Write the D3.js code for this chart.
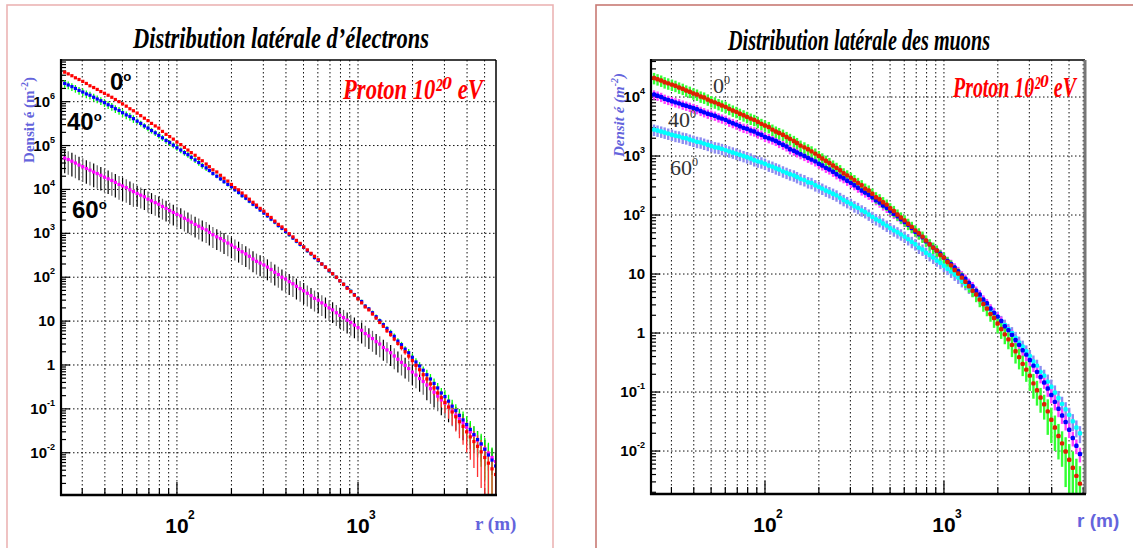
<!DOCTYPE html>
<html><head><meta charset="utf-8">
<script src="https://cdn.jsdelivr.net/npm/d3@7"></script>
<style>body{margin:0;background:#fff}svg{display:block}</style></head>
<body><svg id="c" width="1133" height="548"></svg>
<script>
// ---------- data ----------
// radial bins r (m)
const rBins = [24.0,25.1,26.3,27.5,28.8,30.2,31.6,33.1,34.7,36.3,38.0,39.8,41.7,43.7,45.7,47.9,50.1,52.5,55.0,57.5,
  60.3,63.1,66.1,69.2,72.4,75.9,79.4,83.2,87.1,91.2,95.5,100,105,110,115,120,126,132,138,145,
  151,158,166,174,182,191,200,209,219,229,240,251,263,275,288,302,316,331,347,363,
  380,398,417,437,457,479,501,525,550,575,603,631,661,692,724,759,794,832,871,912,
  955,1000,1047,1096,1148,1202,1259,1318,1380,1445,1514,1585,1660,1738,1820,1905,1995,2089,2188,2291,
  2399,2512,2630,2754,2884,3020,3162,3311,3467,3631,3802,3981,4169,4365,4571,4786,5012,5248,5495,5754];

// electrons, density (m^-2)
const elec0 = [4.7e6,4.3e6,3.9e6,3.5e6,3.2e6,2.9e6,2.6e6,2.3e6,2.1e6,1.9e6,1.7e6,1.55e6,1.4e6,1.26e6,1.12e6,1.0e6,8.9e5,7.9e5,6.9e5,6.2e5,
  5.5e5,4.8e5,4.2e5,3.7e5,3.2e5,2.8e5,2.5e5,2.1e5,1.8e5,1.6e5,1.4e5,1.2e5,1.05e5,9.1e4,7.9e4,6.9e4,6.0e4,5.1e4,4.5e4,3.8e4,
  3.3e4,2.8e4,2.5e4,2.1e4,1.8e4,1.55e4,1.3e4,1.1e4,9.8e3,8.3e3,7.1e3,6.0e3,5.1e3,4.4e3,3.7e3,3.2e3,2.7e3,2.3e3,1.9e3,1.6e3,
  1.4e3,1.2e3,980,830,690,590,490,420,350,300,250,200,170,145,120,100,83,69,56,47,
  39,32,26,21,18,14.5,11.7,9.3,7.6,6.0,4.9,3.9,3.1,2.5,2.0,1.6,1.26,0.98,0.78,0.60,
  0.48,0.37,0.30,0.23,0.18,0.14,0.11,0.085,0.066,0.051,0.040,0.030,0.023,0.018,0.014,0.0105,0.0078,0.0058,0.0043,0.0032];
const elec40 = [2.6e6,2.4e6,2.2e6,2.0e6,1.8e6,1.66e6,1.5e6,1.4e6,1.26e6,1.15e6,1.05e6,9.5e5,8.5e5,7.8e5,6.9e5,6.3e5,5.6e5,5.0e5,4.6e5,4.1e5,
  3.6e5,3.2e5,2.8e5,2.5e5,2.2e5,1.95e5,1.7e5,1.5e5,1.3e5,1.17e5,1.02e5,8.9e4,7.9e4,6.9e4,6.2e4,5.4e4,4.7e4,4.1e4,3.5e4,3.1e4,
  2.7e4,2.3e4,2.0e4,1.74e4,1.5e4,1.3e4,1.15e4,9.8e3,8.5e3,7.2e3,6.3e3,5.4e3,4.6e3,4.0e3,3.4e3,2.9e3,2.5e3,2.1e3,1.8e3,1.5e3,
  1.3e3,1.1e3,930,780,660,560,480,400,340,280,240,200,170,140,120,100,83,69,58,48,
  40,33,28,22,19,15.5,12.6,10.2,8.3,6.8,5.5,4.5,3.5,2.9,2.3,1.9,1.5,1.17,0.95,0.76,
  0.60,0.48,0.38,0.30,0.23,0.19,0.15,0.115,0.091,0.071,0.056,0.044,0.034,0.026,0.020,0.016,0.012,0.0089,0.0068,0.005];
const elec60 = [5.2e4,4.8e4,4.4e4,4.0e4,3.6e4,3.3e4,3.0e4,2.75e4,2.5e4,2.3e4,2.1e4,1.9e4,1.74e4,1.6e4,1.45e4,1.3e4,1.2e4,1.1e4,9.8e3,8.9e3,
  8.1e3,7.4e3,6.8e3,6.0e3,5.5e3,5.0e3,4.6e3,4.1e3,3.7e3,3.3e3,3.0e3,2.7e3,2.5e3,2.2e3,2.0e3,1.8e3,1.6e3,1.45e3,1.3e3,1.2e3,
  1.05e3,930,830,760,680,600,540,480,430,380,340,300,260,230,210,190,170,150,130,115,
  100,91,79,71,62,55,49,43,38,33,30,26,23,20,18,15.5,13.5,12,10.5,9.3,
  8.1,7.1,6.2,5.2,4.6,4.0,3.4,3.0,2.5,2.2,1.9,1.6,1.35,1.15,0.98,0.83,0.69,0.59,0.49,0.42,
  0.35,0.29,0.24,0.195,0.16,0.135,0.11,0.089,0.072,0.059,0.048,0.038,0.030,0.025,0.0195,0.0155,0.0123,0.0098,0.0078,0.0063];
// relative errors on electrons
const elec0Err = [.04,.04,.04,.04,.04,.04,.04,.04,.04,.04,.04,.04,.04,.04,.04,.04,.04,.04,.04,.04,
  .04,.04,.04,.04,.04,.04,.04,.04,.04,.04,.04,.04,.04,.04,.04,.04,.04,.04,.04,.04,
  .04,.04,.04,.04,.04,.04,.04,.04,.04,.04,.04,.04,.04,.04,.04,.04,.04,.04,.04,.04,
  .04,.04,.04,.04,.04,.04,.04,.04,.04,.04,.04,.04,.04,.04,.04,.04,.04,.04,.04,.04,
  .04,.04,.04,.04,.04,.06,.06,.07,.08,.09,.1,.11,.12,.14,.15,.17,.19,.21,.23,.25,
  .28,.3,.33,.36,.4,.43,.46,.5,.54,.58,.62,.66,.7,.75,.8,.85,.9,.93,.96,.98];
const elec40Err = [.2,.2,.2,.2,.2,.2,.2,.2,.2,.2,.2,.2,.2,.2,.2,.2,.2,.2,.2,.2,
  .15,.15,.15,.15,.15,.15,.15,.15,.15,.15,.15,.15,.15,.15,.15,.15,.15,.15,.15,.15,
  .1,.1,.1,.1,.1,.1,.1,.1,.1,.1,.1,.1,.1,.1,.1,.1,.1,.1,.1,.1,
  .1,.1,.1,.1,.1,.1,.1,.1,.1,.1,.1,.1,.1,.1,.1,.1,.1,.1,.1,.1,
  .1,.1,.1,.1,.1,.12,.12,.12,.12,.12,.16,.16,.16,.16,.16,.22,.22,.22,.22,.22,
  .3,.3,.3,.3,.3,.4,.4,.4,.4,.4,.55,.55,.55,.55,.55,.7,.8,.9,.95,.98];
const elec60Err = [.55,.55,.55,.55,.55,.55,.55,.55,.55,.55,.55,.55,.55,.55,.55,.55,.55,.55,.55,.55,
  .5,.5,.5,.5,.5,.5,.5,.5,.5,.5,.5,.5,.5,.5,.5,.5,.5,.5,.5,.5,
  .5,.5,.5,.5,.5,.5,.5,.5,.5,.5,.5,.5,.5,.5,.5,.5,.5,.5,.5,.5,
  .5,.5,.5,.5,.5,.5,.5,.5,.5,.5,.5,.5,.5,.5,.5,.5,.5,.5,.5,.5,
  .5,.5,.5,.5,.5,.5,.5,.5,.5,.5,.5,.5,.5,.5,.5,.5,.5,.5,.5,.5,
  .55,.55,.55,.55,.55,.55,.55,.55,.55,.55,.6,.6,.6,.6,.6,.6,.6,.6,.6,.6];

// muons, density (m^-2)
const muon0 = [2.1e4,2.0e4,1.9e4,1.78e4,1.7e4,1.62e4,1.55e4,1.45e4,1.38e4,1.29e4,1.23e4,1.15e4,1.1e4,1.02e4,9.8e3,9.1e3,8.5e3,8.1e3,7.6e3,7.2e3,
  6.8e3,6.3e3,5.9e3,5.6e3,5.2e3,4.9e3,4.6e3,4.3e3,4.1e3,3.8e3,3.5e3,3.3e3,3.1e3,2.8e3,2.6e3,2.45e3,2.3e3,2.1e3,1.95e3,1.8e3,
  1.66e3,1.5e3,1.4e3,1.3e3,1.2e3,1.1e3,1.0e3,910,830,760,690,630,575,510,470,430,390,350,320,280,
  260,230,200,185,165,150,130,117,102,91,81,71,63,55,49,43,37,32,28,25,
  21,19,16,14,11.7,10.2,8.7,7.4,6.2,5.2,4.5,3.7,3.1,2.6,2.1,1.8,1.45,1.17,0.95,0.78,
  0.63,0.49,0.39,0.30,0.24,0.19,0.14,0.107,0.081,0.062,0.047,0.034,0.025,0.018,0.0135,0.0098,0.0071,0.0052,0.0038,0.0028];
const muon40 = [1.1e4,1.05e4,1.0e4,9.3e3,8.9e3,8.5e3,8.1e3,7.8e3,7.4e3,7.1e3,6.8e3,6.5e3,6.2e3,5.8e3,5.5e3,5.2e3,5.0e3,4.8e3,4.5e3,4.3e3,
  4.1e3,3.8e3,3.6e3,3.4e3,3.2e3,3.0e3,2.9e3,2.7e3,2.6e3,2.4e3,2.3e3,2.1e3,2.0e3,1.9e3,1.8e3,1.66e3,1.55e3,1.45e3,1.3e3,1.23e3,
  1.15e3,1.07e3,1.0e3,930,870,810,740,690,630,590,540,490,450,420,380,350,320,290,260,240,
  220,200,178,162,145,132,117,105,95,85,76,68,60,52,47,42,36,32,28,25,
  22,19,16.6,14.8,12.9,11.2,9.5,8.3,7.1,6.2,5.2,4.5,3.7,3.2,2.6,2.2,1.9,1.6,1.3,1.12,
  0.93,0.76,0.63,0.51,0.43,0.35,0.28,0.22,0.18,0.145,0.115,0.089,0.068,0.052,0.040,0.031,0.023,0.0166,0.0123,0.0089];
const muon60 = [2.8e3,2.7e3,2.6e3,2.5e3,2.4e3,2.3e3,2.2e3,2.15e3,2.05e3,2.0e3,1.9e3,1.82e3,1.74e3,1.7e3,1.62e3,1.55e3,1.48e3,1.41e3,1.38e3,1.32e3,
  1.26e3,1.2e3,1.15e3,1.1e3,1.05e3,1.0e3,955,910,850,810,780,740,690,660,620,590,550,520,490,470,
  440,410,390,360,350,320,300,280,260,245,230,215,195,180,166,155,141,132,120,112,
  102,93,85,79,72,66,60,55,51,47,43,39,35,32,28,26,23,21,19,17,
  15.5,13.8,12.3,11,9.8,8.7,7.6,6.8,5.9,5.2,4.6,4.0,3.4,3.0,2.5,2.2,1.9,1.6,1.38,1.17,
  1.0,0.83,0.69,0.59,0.49,0.41,0.33,0.28,0.22,0.19,0.15,0.123,0.098,0.079,0.063,0.051,0.041,0.032,0.025,0.020];
// relative errors on muons
const muon0Err = [.22,.22,.22,.22,.22,.22,.22,.22,.22,.22,.22,.22,.22,.22,.22,.22,.22,.22,.22,.22,
  .22,.22,.22,.22,.22,.22,.22,.22,.22,.22,.22,.22,.22,.22,.22,.22,.22,.22,.22,.22,
  .22,.22,.22,.22,.22,.22,.22,.22,.22,.22,.22,.22,.22,.22,.22,.22,.22,.22,.22,.22,
  .22,.22,.22,.22,.22,.22,.22,.22,.22,.22,.22,.22,.22,.22,.22,.22,.22,.22,.22,.22,
  .22,.22,.22,.22,.22,.22,.22,.22,.22,.22,.26,.26,.26,.26,.26,.32,.32,.32,.32,.32,
  .38,.38,.38,.38,.38,.45,.45,.45,.45,.45,.6,.6,.6,.6,.6,.75,.85,.9,.95,.98];
const muon40Err = [.18,.18,.18,.18,.18,.18,.18,.18,.18,.18,.18,.18,.18,.18,.18,.18,.18,.18,.18,.18,
  .18,.18,.18,.18,.18,.18,.18,.18,.18,.18,.18,.18,.18,.18,.18,.18,.18,.18,.18,.18,
  .18,.18,.18,.18,.18,.18,.18,.18,.18,.18,.18,.18,.18,.18,.18,.18,.18,.18,.18,.18,
  .18,.18,.18,.18,.18,.18,.18,.18,.18,.18,.18,.18,.18,.18,.18,.18,.18,.18,.18,.18,
  .18,.18,.18,.18,.18,.18,.18,.18,.18,.18,.18,.18,.18,.18,.18,.18,.18,.18,.18,.18,
  .22,.22,.22,.22,.22,.22,.22,.22,.22,.22,.28,.28,.28,.28,.28,.28,.28,.28,.28,.28];
const muon60Err = [.22,.22,.22,.22,.22,.22,.22,.22,.22,.22,.22,.22,.22,.22,.22,.22,.22,.22,.22,.22,
  .22,.22,.22,.22,.22,.22,.22,.22,.22,.22,.22,.22,.22,.22,.22,.22,.22,.22,.22,.22,
  .22,.22,.22,.22,.22,.22,.22,.22,.22,.22,.22,.22,.22,.22,.22,.22,.22,.22,.22,.22,
  .22,.22,.22,.22,.22,.22,.22,.22,.22,.22,.22,.22,.22,.22,.22,.22,.22,.22,.22,.22,
  .22,.22,.22,.22,.22,.22,.22,.22,.22,.22,.22,.22,.22,.22,.22,.22,.22,.22,.22,.22,
  .26,.26,.26,.26,.26,.26,.26,.26,.26,.26,.32,.32,.32,.32,.32,.32,.32,.32,.32,.32];

const angleLabels = ["0", "40", "60"];
const xLabelDecades = [100, 1000];
const titles = ["Distribution latérale d’électrons", "Distribution latérale des muons"];
const energyLabel = "Proton 10\u00B2\u2070 eV";
const yTitleText = ["Densit é (m", "-2", ")"];
const xTitleText = "r (m)";

// ---------- drawing ----------
const svg = d3.select("#c");
const NARROW = "'Liberation Sans Narrow','Liberation Sans',Arial,sans-serif";
const SERIF = "'Liberation Serif','Times New Roman','DejaVu Serif',serif";
const BLUE_T = "#6464dc";

function panel(cfg) {
  const g = svg.append("g");
  g.append("rect").attr("x", cfg.frame[0]).attr("y", cfg.frame[1])
    .attr("width", cfg.frame[2]).attr("height", cfg.frame[3])
    .attr("fill", "none").attr("stroke", cfg.frameColor).attr("stroke-width", 1.6);

  const x = d3.scaleLog().domain(cfg.xDom).range([cfg.px0, cfg.px1]);
  const y = d3.scaleLog().domain(cfg.yDom).range([cfg.py1, cfg.py0]);
  const xt = x.ticks().filter(v => v > cfg.xDom[0] && v < cfg.xDom[1]);
  const yt = y.ticks().filter(v => v > cfg.yDom[0] && v < cfg.yDom[1]);
  const isDec = v => Math.abs(Math.log10(v) - Math.round(Math.log10(v))) < 1e-6;

  // grid
  const grid = g.append("g").attr("stroke", "#111").attr("stroke-width", 1)
    .attr("stroke-dasharray", "1.5,2.5");
  xt.forEach(v => grid.append("line").attr("x1", x(v)).attr("x2", x(v))
    .attr("y1", cfg.py0).attr("y2", cfg.py1));
  yt.filter(isDec).forEach(v => grid.append("line").attr("y1", y(v)).attr("y2", y(v))
    .attr("x1", cfg.px0).attr("x2", cfg.px1));

  // ticks (inward)
  const tk = g.append("g").attr("stroke", "#000").attr("stroke-width", 1.2);
  yt.forEach(v => tk.append("line").attr("x1", cfg.px0).attr("x2", cfg.px0 + (isDec(v) ? 9 : 5))
    .attr("y1", y(v)).attr("y2", y(v)));
  xt.forEach(v => tk.append("line").attr("x1", x(v)).attr("x2", x(v))
    .attr("y1", cfg.py1).attr("y2", cfg.py1 - (isDec(v) ? 13 : 7)));

  // data
  const clipId = "clip" + cfg.id;
  g.append("clipPath").attr("id", clipId).append("rect")
    .attr("x", cfg.px0).attr("y", cfg.py0).attr("width", cfg.px1 - cfg.px0).attr("height", cfg.py1 - cfg.py0);
  const dg = g.append("g").attr("clip-path", `url(#${clipId})`);
  const lo = cfg.yDom[0] * 0.5;
  cfg.series.forEach(s => {
    const pts = rBins.map((r, i) => ({ r, v: s.vals[i], e: s.errs[i] }));
    dg.append("g").selectAll("line").data(pts).join("line")
      .attr("x1", d => x(d.r)).attr("x2", d => x(d.r))
      .attr("y1", d => y(d.v * (1 + d.e)))
      .attr("y2", d => y(Math.max(d.v * (1 - d.e), lo)))
      .attr("stroke", (d, i) => (s.errColor2 && i % 2) ? s.errColor2 : s.errColor)
      .attr("stroke-width", s.errWidth);
  });
  cfg.series.forEach(s => {
    const pts = rBins.map((r, i) => ({ r, v: s.vals[i] }));
    dg.append("g").selectAll("rect").data(pts).join("rect")
      .attr("x", d => x(d.r) - s.size / 2).attr("y", d => y(d.v) - s.size / 2)
      .attr("width", s.size).attr("height", s.size).attr("rx", s.rx || 0)
      .attr("fill", s.color);
  });

  // frame of the plot
  g.append("line").attr("x1", cfg.px0).attr("x2", cfg.px1).attr("y1", cfg.py0).attr("y2", cfg.py0)
    .attr("stroke", "#000").attr("stroke-width", 1.5);
  g.append("line").attr("x1", cfg.px1).attr("x2", cfg.px1).attr("y1", cfg.py0).attr("y2", cfg.py1)
    .attr("stroke", cfg.rightColor).attr("stroke-width", cfg.rightWidth);
  g.append("line").attr("x1", cfg.px0).attr("x2", cfg.px0).attr("y1", cfg.py0 - 1).attr("y2", cfg.py1 + 1)
    .attr("stroke", "#000").attr("stroke-width", 2.2);
  g.append("line").attr("x1", cfg.px0 - 1).attr("x2", cfg.px1 + 1).attr("y1", cfg.py1).attr("y2", cfg.py1)
    .attr("stroke", "#000").attr("stroke-width", 2.4);

  // y labels
  yt.filter(isDec).forEach(v => {
    const e = Math.round(Math.log10(v));
    const t = g.append("text").attr("x", cfg.px0 - 6).attr("y", y(v) + 5)
      .attr("text-anchor", "end").attr("font-family", NARROW).attr("font-weight", "bold")
      .attr("font-size", 15).attr("fill", "#000");
    if (e === 0) t.text("1");
    else if (e === 1) t.text("10");
    else {
      t.append("tspan").text("10");
      t.append("tspan").attr("dy", -8).attr("font-size", 9).text(String(e));
    }
  });
  // x labels
  xLabelDecades.forEach(v => {
    const e = Math.round(Math.log10(v));
    g.append("text").attr("x", x(v)).attr("y", cfg.py1 + 38).attr("text-anchor", "middle")
      .attr("font-family", NARROW).attr("font-weight", "bold").attr("font-size", 21).text("10");
    g.append("text").attr("x", x(v) + 11).attr("y", cfg.py1 + 24)
      .attr("font-family", NARROW).attr("font-weight", "bold").attr("font-size", 12).text(String(e));
  });
  // x title
  g.append("text").attr("x", cfg.xTitle[0]).attr("y", cfg.xTitle[1])
    .attr("font-family", cfg.xTitleFont).attr("font-weight", "bold").attr("font-size", 19)
    .attr("fill", BLUE_T).text(xTitleText);
  // y title
  const yt2 = g.append("text").attr("transform", `translate(${cfg.yTitle[0]},${cfg.yTitle[1]}) rotate(-90)`)
    .attr("text-anchor", "middle").attr("font-family", SERIF).attr("font-weight", "bold")
    .attr("font-style", cfg.yTitleStyle).attr("font-size", 15).attr("fill", BLUE_T);
  yt2.append("tspan").text(yTitleText[0]);
  yt2.append("tspan").attr("dy", -6).attr("font-size", 10).text(yTitleText[1]);
  yt2.append("tspan").attr("dy", 6).text(yTitleText[2]);
  // title
  g.append("text").attr("x", cfg.title[0]).attr("y", cfg.title[1])
    .attr("font-family", SERIF).attr("font-weight", "bold").attr("font-style", "italic")
    .attr("font-size", 29).attr("textLength", cfg.title[2]).attr("lengthAdjust", "spacingAndGlyphs")
    .text(cfg.titleText);
  // energy label: condensed horizontally with a transform so its box is the real one
  const et = g.append("text").attr("x", 0).attr("y", 0)
    .attr("font-family", SERIF).attr("font-weight", "bold").attr("font-style", "italic")
    .attr("font-size", 30).attr("fill", "#ff0000").text(energyLabel);
  const natW = et.node().getComputedTextLength() || 190;
  const sx = cfg.energy[2] / natW;
  et.attr("transform", `translate(${cfg.energy[0]},${cfg.energy[1]}) scale(${sx},1)`);
  // angle labels
  cfg.angles.forEach((a, i) => {
    const t = g.append("text").attr("x", a[0]).attr("y", a[1])
      .attr("font-family", cfg.angleFont).attr("font-weight", cfg.angleWeight)
      .attr("font-size", cfg.angleSize).attr("fill", cfg.angleColor);
    t.append("tspan").text(angleLabels[i]);
    t.append("tspan").attr("dy", -9).attr("font-size", cfg.angleSize * 0.55).text(cfg.degGlyph);
  });
}

panel({
  id: "L", frame: [7, 5, 546, 560], frameColor: "#ebb4b4",
  px0: 61, px1: 496, py0: 60, py1: 495,
  xDom: [22.9, 5780], yDom: [1.09e-3, 8.9e6],
  rightColor: "#000", rightWidth: 1.5,
  title: [133, 48, 296], titleText: titles[0],
  energy: [343, 99, 140],
  xTitle: [475, 530], xTitleFont: SERIF,
  yTitle: [34, 120], yTitleStyle: "normal",
  angles: [[110, 90], [67, 130], [72, 218]], angleFont: NARROW, angleWeight: "bold",
  angleSize: 24, angleColor: "#000", degGlyph: "o",
  series: [
    { vals: elec60, errs: elec60Err, color: "#ff00ff", errColor: "#000", errColor2: "#666", errWidth: 1.2, size: 3.2 },
    { vals: elec40, errs: elec40Err, color: "#0000ff", errColor: "#00ff00", errWidth: 1.3, size: 3.2 },
    { vals: elec0, errs: elec0Err, color: "#ff0000", errColor: "#ff3030", errWidth: 1.3, size: 3.2 }
  ]
});
panel({
  id: "R", frame: [596, 5, 560, 560], frameColor: "#c87a74",
  px0: 651, px1: 1085, py0: 60, py1: 494,
  xDom: [23.07, 6140], yDom: [1.87e-3, 4.24e4],
  rightColor: "#777", rightWidth: 3,
  title: [728, 50, 262], titleText: titles[1],
  energy: [953, 97, 123],
  xTitle: [1077, 527], xTitleFont: NARROW,
  yTitle: [624, 115], yTitleStyle: "italic",
  angles: [[713, 93], [668, 127], [670, 175]], angleFont: SERIF, angleWeight: "normal",
  angleSize: 22, angleColor: "#333", degGlyph: "0",
  series: [
    { vals: muon60, errs: muon60Err, color: "#00ffff", errColor: "#8c8cf0", errWidth: 2.4, size: 4.4, rx: 1.5 },
    { vals: muon40, errs: muon40Err, color: "#0000ff", errColor: "#ff40ff", errWidth: 2.4, size: 4.4, rx: 1.5 },
    { vals: muon0, errs: muon0Err, color: "#dd2200", errColor: "#33ff33", errWidth: 2.4, size: 4.4, rx: 1.5 }
  ]
});
</script></body></html>
